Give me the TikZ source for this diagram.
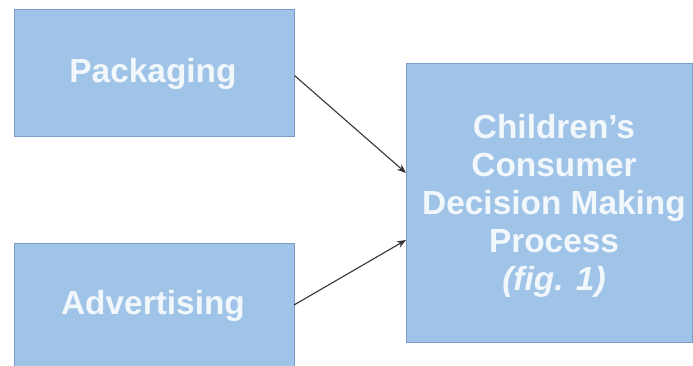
\documentclass[tikz,border=0pt]{standalone}
\usepackage{fontspec}
\setmainfont{Liberation Sans}
\usetikzlibrary{arrows.meta}
\definecolor{boxfill}{HTML}{9FC4E8}
\definecolor{boxline}{HTML}{7A9CC8}
\definecolor{boxtext}{HTML}{F2F7FC}
\begin{document}
\begin{tikzpicture}[x=1pt,y=-1pt,
  boxshape/.style={draw=boxline,line width=1pt,fill=boxfill,inner sep=0pt},
  boxlabel/.style={inner sep=0pt,text=boxtext,font=\bfseries\fontsize{33.4}{38}\selectfont,align=center},
  link/.style={draw=black!80,line width=1.1pt,-{Stealth[length=9pt,width=7pt]}}]
\useasboundingbox (0,0) rectangle (693,366);
\node[boxshape,minimum width=280pt,minimum height=127pt] (pack) at (154,73.5) {};
\node[boxlabel] (packt) at (153,74) {Packaging};
\path[boxshape] (14,370) -- (14,243) -- (294,243) -- (294,370);
\node[boxlabel] (adv) at (153,306) {Advertising};
\coordinate (advR) at (294,305);
\node[boxshape,minimum width=286pt,minimum height=278pt] (cdm) at (549,203) {};
\node[boxlabel] (cdmt) at (554,206)
  {Children’s\\Consumer\\Decision Making\\Process\\\textit{(fig. 1)}};
\coordinate (in1) at (406,173);
\coordinate (in2) at (406,240);
\draw[link] (pack.east) ++(0,2) -- (in1);
\draw[link] (advR) -- (in2);
\end{tikzpicture}
\end{document}
